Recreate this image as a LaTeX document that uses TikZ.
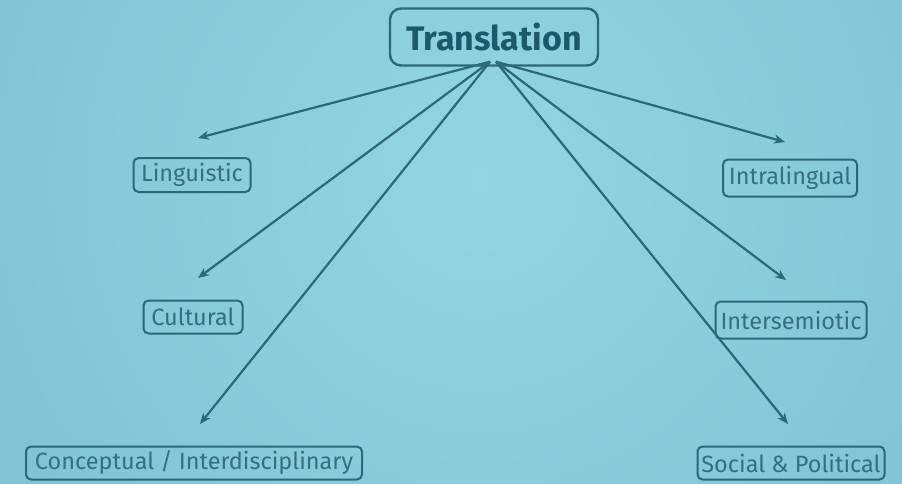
\documentclass[tikz,border=0pt]{standalone}
\usepackage{fontspec}
\setmainfont{Fira Sans}
\usetikzlibrary{arrows.meta,calc}
\definecolor{bgin}{HTML}{93D6E2}
\definecolor{bgout}{HTML}{7EC1D2}
\definecolor{edge}{HTML}{2C6878}
\definecolor{lbl}{HTML}{356F80}
\definecolor{ttl}{HTML}{1C596A}
\tikzset{
  leaf/.style={draw=edge, line width=2pt, rounded corners=5pt, inner sep=0pt,
    text=lbl, font=\fontsize{23.5}{25}\selectfont},
  root/.style={draw=edge, line width=2.4pt, rounded corners=11pt, inner sep=0pt,
    text=ttl, font=\fontsize{34}{36}\selectfont\bfseries},
  link/.style={draw=edge, line width=2.2pt, -{Stealth[length=11pt,width=9pt]}}
}
\begin{document}
\begin{tikzpicture}[x=1pt,y=-1pt]
\useasboundingbox (0,0) rectangle (902,483);
\begin{scope}
  \clip (0,0) rectangle (902,483);
  \fill[bgout] (0,0) rectangle (902,483);
  \shade[inner color=bgin, outer color=bgout] (480,180) circle (620);
\end{scope}

\node[root, minimum width=208pt, minimum height=57pt] (trans) at (494,37) {Translation};

\node[leaf, minimum width=117pt, minimum height=34pt] (ling) at (192,175) {Linguistic};
\node[leaf, minimum width=99pt, minimum height=33pt] (cult) at (193,317) {Cultural};
\node[leaf, minimum width=336pt, minimum height=33pt] (conc) at (194,463) {Conceptual / Interdisciplinary};
\node[leaf, minimum width=134pt, minimum height=37pt] (intra) at (790,178) {Intralingual};
\node[leaf, minimum width=151pt, minimum height=37pt] (inter) at (791,320) {Intersemiotic};
\node[leaf, minimum width=187pt, minimum height=33pt] (soc) at (791,463) {Social \& Political};

\coordinate (srcL) at ($(trans.south)+(-4,-5)$);
\coordinate (srcR) at ($(trans.south)+(2,-5)$);
\coordinate (tipling) at (198,138);
\coordinate (tipcult) at (198,278);
\coordinate (tipconc) at (200,424);
\coordinate (tipintra) at (785,142);
\coordinate (tipinter) at (786,280);
\coordinate (tipsoc) at (788,424);

\draw[link] (srcL) -- (tipling);
\draw[link] (srcL) -- (tipcult);
\draw[link] (srcL) -- (tipconc);
\draw[link] (srcR) -- (tipintra);
\draw[link] (srcR) -- (tipinter);
\draw[link] (srcR) -- (tipsoc);
\end{tikzpicture}
\end{document}
